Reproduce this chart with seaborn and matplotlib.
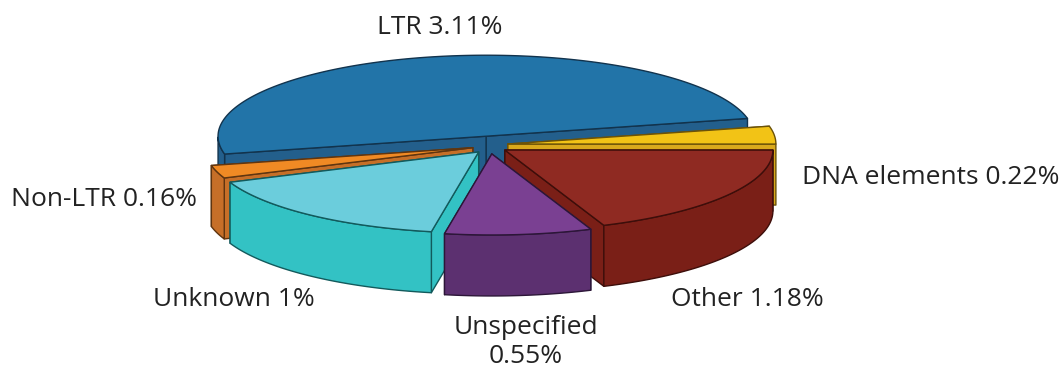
import numpy as np
import matplotlib
matplotlib.use("Agg")
import matplotlib.pyplot as plt
from matplotlib.patches import Polygon
import seaborn as sns

# Share of the genome per repeat class, counter-clockwise from the right-hand end of LTR
categories = ["LTR", "Non-LTR", "Unknown", "Unspecified", "Other", "DNA elements"]
values = [3.11, 0.16, 1.0, 0.55, 1.18, 0.22]
top_colors = ["#2274a8", "#f08a24", "#6bcddc", "#7a4092", "#8f2a22", "#f2c316"]
side_colors = ["#235f8c", "#c66f28", "#33c2c4", "#5c3070", "#7a1f17", "#d9a91c"]
edge_colors = ["#12334d", "#5f3510", "#125a5c", "#2c1638", "#3d0e0a", "#6b5208"]
draw_order = ["LTR", "DNA elements", "Non-LTR", "Other", "Unknown", "Unspecified"]

label_text = {
    "LTR": "LTR 3.11%",
    "Non-LTR": "Non-LTR 0.16%",
    "Unknown": "Unknown 1%",
    "Unspecified": "Unspecified\n0.55%",
    "Other": "Other 1.18%",
    "DNA elements": "DNA elements 0.22%",
}
label_anchor = {
    "LTR": (440, 27, "center"),
    "Non-LTR": (11, 200, "left"),
    "Unknown": (153, 300, "left"),
    "Unspecified": (526, 342, "center"),
    "Other": (671, 300, "left"),
    "DNA elements": (802, 177, "left"),
}

START_ANGLE = 12.7
CX, CY = 490.0, 145.0
RX, RY = 268.0, 81.0
EXPLODE_X, EXPLODE_Y = 18.0, 9.0
DEPTH = 61.0

sns.set_theme(style="white")
plt.rcParams["font.family"] = ["Open Sans", "DejaVu Sans"]

fig, ax = plt.subplots(figsize=(10.62, 3.69), dpi=100)
ax.set_position([0, 0, 1, 1])
ax.set_xlim(0, 1062)
ax.set_ylim(369, 0)
ax.axis("off")

# Wedge angles follow from the values
shares = np.array(values) / np.sum(values) * 360.0
starts = START_ANGLE + np.concatenate([[0], np.cumsum(shares)[:-1]])


def add_face(points, face, edge, z):
    ax.add_patch(Polygon(points, closed=True, facecolor=face, edgecolor=edge,
                         linewidth=1.0, joinstyle="round", zorder=z))


for name in draw_order:
    i = categories.index(name)
    a0 = np.radians(starts[i])
    a1 = np.radians(starts[i] + shares[i])
    mid = (a0 + a1) / 2
    ox = CX + EXPLODE_X * np.cos(mid)
    oy = CY - EXPLODE_Y * np.sin(mid)
    t = np.linspace(a0, a1, 180)
    top = np.column_stack([ox + RX * np.cos(t), oy - RY * np.sin(t)])
    apex = np.array([ox, oy])
    shift = np.array([0, DEPTH])
    z = draw_order.index(name) * 10
    # Cut faces from back to front, the near part of the rim, then the lid
    ends = sorted((top[0], top[-1]), key=lambda p: p[1])
    for end in ends:
        add_face([apex, end, end + shift, apex + shift], side_colors[i], edge_colors[i], z + 1)
    near = top[np.sin(t) <= 0]
    if len(near) > 1:
        add_face(np.vstack([near, (near + shift)[::-1]]), side_colors[i], edge_colors[i], z + 2)
    add_face(np.vstack([apex, top]), top_colors[i], edge_colors[i], z + 3)

for name in categories:
    x, y, ha = label_anchor[name]
    ax.text(x, y, label_text[name], ha=ha, va="center", fontsize=19,
            color="#222222", linespacing=1.2, zorder=100)

fig.savefig("out.png", dpi=100)
